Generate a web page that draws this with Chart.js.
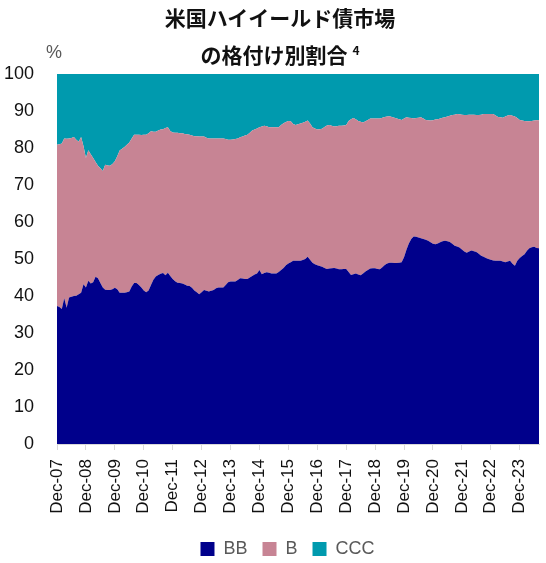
<!DOCTYPE html>
<html lang="ja">
<head>
<meta charset="utf-8">
<title>米国ハイイールド債市場の格付け別割合</title>
<script src="https://cdn.jsdelivr.net/npm/chart.js@4.4.1/dist/chart.umd.min.js"></script>
<style>
  body { margin: 0; background: #fff; }
  #wrap { position: relative; width: 546px; height: 563px; }
  #title {
    position: absolute; left: 14px; top: -1px; width: 532px;
    text-align: center; font-family: "Noto Sans CJK JP", sans-serif;
    font-weight: bold; font-size: 21px; line-height: 37px; color: #111;
  }
  #title sup { font-size: 12px; line-height: 0; vertical-align: baseline; position: relative; top: -8px; margin-left: 5px; }
  #unit {
    position: absolute; left: 46px; top: 42px;
    font-family: "Liberation Sans", sans-serif; font-size: 18px; color: #595959;
  }
  canvas { position: absolute; left: 0; top: 0; }
</style>
</head>
<body>
<div id="wrap">
  <canvas id="ratingChart" width="546" height="563"></canvas>
  <div id="title">米国ハイイールド債市場<br>の格付け別割合<sup>4</sup></div>
  <div id="unit">%</div>
</div>
<script>
// monthly shares (%), Dec-07 .. Aug-24
const bbShare = [
  37.3, 37.0, 36.5, 39.4, 36.8, 39.6, 39.8, 40.0, 40.1, 40.5, 40.9, 43.2,
  42.3, 44.1, 43.4, 43.7, 45.2, 44.8, 43.5, 42.3, 41.7, 41.6, 41.6, 41.8,
  42.2, 41.8, 40.9, 40.9, 40.9, 41.0, 41.2, 42.6, 43.5, 43.5, 43.0, 42.3,
  41.5, 41.0, 41.5, 43.0, 44.4, 45.3, 45.7, 46.0, 46.2, 45.6, 46.3, 45.4,
  44.6, 44.0, 43.6, 43.5, 43.4, 43.1, 42.8, 42.7, 42.2, 41.5, 41.0, 40.5,
  41.0, 41.6, 41.4, 41.2, 41.4, 41.6, 42.1, 42.3, 42.3, 42.3, 43.0, 43.7,
  43.9, 43.9, 43.9, 44.3, 44.8, 44.7, 44.6, 44.6, 45.0, 45.4, 45.8, 46.1,
  47.0, 45.9, 46.2, 46.4, 46.3, 46.1, 46.1, 46.1, 46.5, 47.0, 47.6, 48.3,
  48.8, 49.1, 49.5, 49.5, 49.5, 49.5, 49.7, 50.0, 50.6, 49.8, 49.0, 48.6,
  48.3, 48.1, 47.9, 47.6, 47.3, 47.4, 47.5, 47.6, 47.4, 47.2, 47.2, 47.3,
  47.3, 46.5, 45.7, 45.9, 46.1, 45.8, 45.6, 46.1, 46.6, 47.0, 47.4, 47.5,
  47.5, 47.3, 47.2, 47.8, 48.4, 48.8, 49.0, 49.0, 48.9, 48.9, 49.0, 49.1,
  50.5, 52.5, 54.2, 55.4, 56.1, 56.0, 55.8, 55.6, 55.4, 55.2, 54.9, 54.5,
  54.1, 54.0, 54.2, 54.5, 54.8, 54.9, 54.8, 54.6, 54.1, 53.6, 53.4, 53.1,
  52.6, 52.0, 51.7, 52.0, 52.3, 52.1, 51.9, 51.4, 50.9, 50.6, 50.3, 50.0,
  49.8, 49.6, 49.5, 49.5, 49.5, 49.3, 49.1, 49.3, 49.5, 48.7, 48.2, 49.5,
  50.3, 50.8, 51.3, 52.2, 52.9, 53.2, 53.3, 53.0, 52.9
];
const bShare = [
  43.6, 44.0, 44.7, 43.2, 45.7, 43.0, 42.9, 43.0, 42.1, 41.2, 42.1, 37.3,
  35.0, 35.3, 34.9, 33.6, 31.0, 30.4, 31.0, 31.5, 33.8, 33.7, 33.6, 33.9,
  34.2, 36.0, 38.4, 38.9, 39.4, 39.9, 40.3, 40.0, 40.1, 40.1, 40.6, 41.2,
  42.1, 42.6, 42.5, 41.5, 40.0, 39.1, 39.0, 39.0, 38.9, 39.8, 39.3, 39.2,
  39.6, 40.1, 40.5, 40.5, 40.6, 40.7, 40.9, 40.9, 41.2, 41.7, 42.2, 42.6,
  42.1, 41.5, 41.4, 41.4, 41.2, 41.0, 40.5, 40.3, 40.3, 40.3, 39.4, 38.5,
  38.3, 38.4, 38.5, 38.3, 38.1, 38.4, 38.8, 39.0, 39.1, 39.3, 39.2, 39.2,
  38.6, 39.9, 39.8, 39.5, 39.3, 39.5, 39.5, 39.5, 39.1, 39.2, 39.1, 38.7,
  38.5, 38.1, 37.0, 36.7, 36.9, 37.1, 37.1, 37.1, 36.8, 36.8, 36.6, 36.7,
  36.7, 37.0, 37.3, 38.1, 38.8, 38.8, 38.5, 38.2, 38.5, 38.8, 38.8, 38.8,
  38.9, 40.8, 42.1, 42.2, 41.7, 41.5, 41.5, 40.8, 40.6, 40.6, 40.6, 40.5,
  40.5, 40.7, 40.8, 40.4, 40.0, 39.7, 39.6, 39.4, 39.3, 39.1, 38.8, 38.5,
  37.5, 35.8, 34.0, 32.7, 31.9, 32.1, 32.4, 32.7, 32.6, 32.4, 32.6, 32.9,
  33.4, 33.7, 33.6, 33.5, 33.4, 33.4, 33.7, 34.1, 34.8, 35.4, 35.8, 36.0,
  36.4, 36.9, 37.2, 37.0, 36.7, 36.9, 37.0, 37.5, 38.1, 38.6, 38.9, 39.2,
  39.4, 39.6, 39.3, 38.9, 38.8, 38.9, 39.4, 39.5, 39.4, 40.0, 40.3, 38.6,
  37.3, 36.6, 36.0, 35.0, 34.3, 34.1, 34.1, 34.5, 34.6
];
const cccShare = [
  19.1, 19.0, 18.8, 17.4, 17.5, 17.4, 17.3, 17.0, 17.8, 18.3, 17.0, 19.5,
  22.7, 20.6, 21.7, 22.7, 23.8, 24.8, 25.5, 26.2, 24.5, 24.7, 24.8, 24.3,
  23.6, 22.2, 20.7, 20.2, 19.7, 19.1, 18.5, 17.4, 16.4, 16.4, 16.4, 16.5,
  16.4, 16.4, 16.0, 15.5, 15.6, 15.6, 15.3, 15.0, 14.9, 14.6, 14.4, 15.4,
  15.8, 15.9, 15.9, 16.0, 16.0, 16.2, 16.3, 16.4, 16.6, 16.8, 16.8, 16.9,
  16.9, 16.9, 17.2, 17.4, 17.4, 17.4, 17.4, 17.4, 17.4, 17.4, 17.6, 17.8,
  17.8, 17.7, 17.6, 17.4, 17.1, 16.9, 16.6, 16.4, 15.9, 15.3, 15.0, 14.7,
  14.4, 14.2, 14.0, 14.1, 14.4, 14.4, 14.4, 14.4, 14.4, 13.8, 13.3, 13.0,
  12.7, 12.8, 13.5, 13.8, 13.6, 13.4, 13.2, 12.9, 12.6, 13.4, 14.4, 14.7,
  15.0, 14.9, 14.8, 14.3, 13.9, 13.8, 14.0, 14.2, 14.1, 14.0, 14.0, 13.9,
  13.8, 12.7, 12.2, 11.9, 12.2, 12.7, 12.9, 13.1, 12.8, 12.4, 12.0, 12.0,
  12.0, 12.0, 12.0, 11.8, 11.6, 11.5, 11.4, 11.6, 11.8, 12.0, 12.2, 12.4,
  12.0, 11.7, 11.8, 11.9, 12.0, 11.9, 11.8, 11.7, 12.0, 12.4, 12.5, 12.6,
  12.5, 12.3, 12.2, 12.0, 11.8, 11.7, 11.5, 11.3, 11.1, 11.0, 10.8, 10.9,
  11.0, 11.1, 11.1, 11.0, 11.0, 11.0, 11.1, 11.1, 11.0, 10.8, 10.8, 10.8,
  10.8, 10.8, 11.2, 11.6, 11.7, 11.8, 11.5, 11.2, 11.1, 11.3, 11.5, 11.9,
  12.4, 12.6, 12.7, 12.8, 12.8, 12.7, 12.6, 12.5, 12.5
];
const seriesNames = ['BB', 'B', 'CCC'];
const monthNames = ['Jan','Feb','Mar','Apr','May','Jun','Jul','Aug','Sep','Oct','Nov','Dec'];
const yTicks = [0, 10, 20, 30, 40, 50, 60, 70, 80, 90, 100];

// category labels: one per month starting Dec-07
const months = bbShare.map((_, i) => {
  const m = (11 + i) % 12;
  const y = 2007 + Math.floor((11 + i) / 12);
  return monthNames[m] + '-' + String(y).slice(2);
});

// legend sits a bit right of the canvas centre in the original
const legendShift = {
  id: 'legendShift',
  afterLayout(chart) {
    chart.legend.left += 18;
    chart.legend.right += 18;
  }
};

const ctx = document.getElementById('ratingChart').getContext('2d');
new Chart(ctx, {
  type: 'line',
  data: {
    labels: months,
    datasets: [
      { label: seriesNames[0], data: bbShare, backgroundColor: '#00008b', borderColor: '#00008b', fill: 'origin' },
      { label: seriesNames[1], data: bShare, backgroundColor: '#c78494', borderColor: '#c78494', fill: '-1' },
      { label: seriesNames[2], data: cccShare, backgroundColor: '#009aae', borderColor: '#009aae', fill: '-1' }
    ]
  },
  plugins: [legendShift],
  options: {
    responsive: false,
    animation: false,
    elements: {
      point: { radius: 0 },
      line: { borderWidth: 0, tension: 0 }
    },
    layout: { padding: { left: 0, right: 7, top: 74, bottom: -5 } },
    plugins: {
      title: { display: false },
      tooltip: { enabled: false },
      legend: {
        position: 'bottom',
        labels: {
          boxWidth: 14, boxHeight: 14, padding: 15,
          color: '#595959',
          font: { family: 'Liberation Sans', size: 18 }
        }
      }
    },
    scales: {
      x: {
        offset: false,
        afterFit: s => { s.height = 81; s.paddingLeft = 0; s.paddingRight = 0; },
        border: { color: '#d9d9d9' },
        grid: { drawOnChartArea: false, drawTicks: true, tickLength: 6, color: '#d9d9d9' },
        ticks: {
          autoSkip: false, maxRotation: 90, minRotation: 90, padding: 9,
          color: '#111', font: { family: 'Liberation Sans', size: 17 },
          callback: function (v, i) { return i % 12 === 0 ? this.getLabelForValue(v) : null; }
        }
      },
      y: {
        stacked: true,
        min: yTicks[0], max: yTicks[yTicks.length - 1],
        afterFit: s => { s.width = 57; },
        afterBuildTicks: s => { s.ticks = yTicks.map(v => ({ value: v })); },
        border: { display: false },
        grid: { drawTicks: false, color: c => c.tick && c.tick.value === 100 ? '#d9d9d9' : 'transparent' },
        ticks: { padding: 23, color: '#111', font: { family: 'Liberation Sans', size: 18 } }
      }
    }
  }
});
</script>
</body>
</html>
